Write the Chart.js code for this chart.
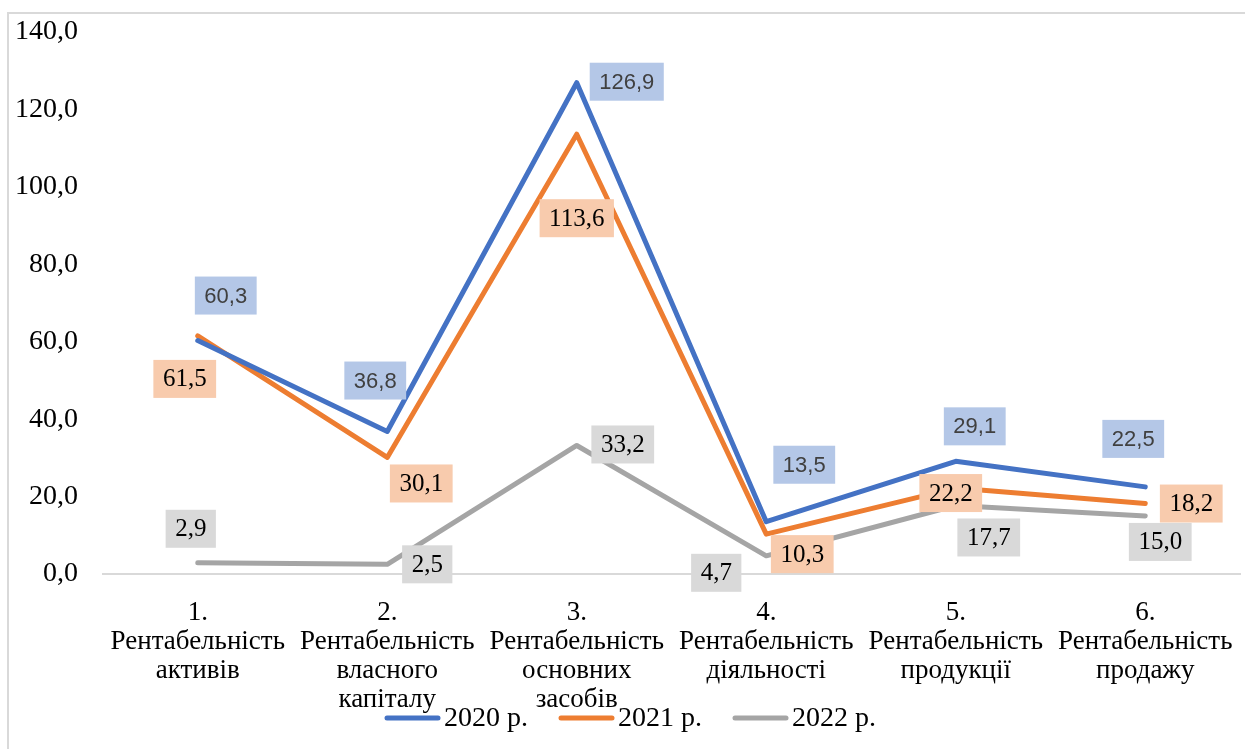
<!DOCTYPE html>
<html lang="uk">
<head>
<meta charset="utf-8">
<title>Рентабельність</title>
<script src="https://cdn.jsdelivr.net/npm/chart.js@4.4.1/dist/chart.umd.min.js"></script>
<style>
  html, body { margin: 0; padding: 0; background: #fff; }
  body { width: 1245px; height: 749px; position: relative; overflow: hidden; }
  #ramka { position: absolute; left: 7px; top: 12px; width: 1300px; height: 800px;
           border-left: 2px solid #d9d9d9; border-top: 2px solid #d9d9d9; }
  #wrap { position: absolute; left: 0; top: 0; width: 1245px; height: 749px; }
</style>
</head>
<body>
<div id="ramka"></div>
<div id="wrap"><canvas id="grafico"></canvas></div>
<script>
const categorias = [
  ['1.', 'Рентабельність', 'активів'],
  ['2.', 'Рентабельність', 'власного', 'капіталу'],
  ['3.', 'Рентабельність', 'основних', 'засобів'],
  ['4.', 'Рентабельність', 'діяльності'],
  ['5.', 'Рентабельність', 'продукції'],
  ['6.', 'Рентабельність', 'продажу']
];
const valores2020 = [60.3, 36.8, 126.9, 13.5, 29.1, 22.5];
const valores2021 = [61.5, 30.1, 113.6, 10.3, 22.2, 18.2];
const valores2022 = [2.9, 2.5, 33.2, 4.7, 17.7, 15.0];
const ticksY = [0, 20, 40, 60, 80, 100, 120, 140];
const nomesSeries = ['2020 р.', '2021 р.', '2022 р.'];

// deslocamento das etiquetas (px) em relação ao ponto
const desloc2020 = [[28, -45], [-12, -51], [50, -1], [38, -57], [19, -35], [-12, -48]];
const desloc2021 = [[-13, 43], [34, 26], [0, 84], [36, 20], [-5, 5], [46, 0]];
const desloc2022 = [[-7, -34], [40, 0], [46, -1], [-50, 17], [33, 32], [15, 26]];

const SERIF = '"Liberation Serif", "Times New Roman", serif';
const SANS = '"Liberation Sans", Arial, sans-serif';

const formatar = v => v.toFixed(1).replace('.', ',');

const estilos = [
  { cor: '#4472c4', caixa: '#b4c7e7', texto: '#404040', fonte: '22px ' + SANS, desloc: desloc2020 },
  { cor: '#ed7d31', caixa: '#f8cbad', texto: '#000000', fonte: '25px ' + SERIF, desloc: desloc2021 },
  { cor: '#a5a5a5', caixa: '#d9d9d9', texto: '#000000', fonte: '25px ' + SERIF, desloc: desloc2022 }
];

// etiquetas de dados em caixas coloridas
const etiquetas = {
  id: 'etiquetas',
  afterDatasetsDraw(chart) {
    const ctx = chart.ctx;
    chart.data.datasets.forEach((ds, i) => {
      const est = estilos[i];
      const meta = chart.getDatasetMeta(i);
      ctx.save();
      ctx.font = est.fonte;
      ctx.textAlign = 'center';
      ctx.textBaseline = 'middle';
      meta.data.forEach((p, j) => {
        const txt = formatar(ds.data[j]);
        const cx = p.x + est.desloc[j][0];
        const cy = p.y + est.desloc[j][1];
        const w = ctx.measureText(txt).width + 19;
        const h = 38;
        ctx.fillStyle = est.caixa;
        ctx.fillRect(cx - w / 2, cy - h / 2, w, h);
        ctx.fillStyle = est.texto;
        ctx.fillText(txt, cx, cy + 1);
      });
      ctx.restore();
    });
  }
};

// legenda desenhada à mão (sobrepõe os rótulos do eixo, como no original)
const legenda = {
  id: 'legenda',
  afterDraw(chart) {
    const ctx = chart.ctx;
    ctx.save();
    ctx.font = '28px ' + SERIF;
    ctx.textBaseline = 'middle';
    const linha = 55, gapTxt = 4, gapItem = 31;
    const larguras = chart.data.datasets.map(ds => ctx.measureText(ds.label).width);
    const total = larguras.reduce((a, b) => a + b, 0) + 3 * (linha + gapTxt) + 2 * gapItem;
    let x = chart.width / 2 + 8 - total / 2;
    const y = 718;
    chart.data.datasets.forEach((ds, i) => {
      ctx.strokeStyle = ds.borderColor;
      ctx.lineWidth = 5;
      ctx.lineCap = 'round';
      ctx.beginPath();
      ctx.moveTo(x + 2, y);
      ctx.lineTo(x + linha - 2, y);
      ctx.stroke();
      x += linha + gapTxt;
      ctx.fillStyle = '#000';
      ctx.fillText(ds.label, x, y + 1);
      x += larguras[i] + gapItem;
    });
    ctx.restore();
  }
};

const serie = (label, data, cor) => ({
  label: label,
  data: data,
  borderColor: cor,
  backgroundColor: cor,
  borderWidth: 5,
  borderCapStyle: 'round',
  borderJoinStyle: 'round',
  pointRadius: 0,
  pointHoverRadius: 0,
  tension: 0,
  fill: false
});

const ctx = document.getElementById('grafico').getContext('2d');
const chart = new Chart(ctx, {
  type: 'line',
  data: {
    labels: categorias,
    datasets: [
      serie(nomesSeries[0], valores2020, estilos[0].cor),
      serie(nomesSeries[1], valores2021, estilos[1].cor),
      serie(nomesSeries[2], valores2022, estilos[2].cor)
    ]
  },
  options: {
    responsive: true,
    maintainAspectRatio: false,
    animation: false,
    layout: { padding: { top: 32, right: 5, left: 0, bottom: 0 } },
    scales: {
      x: {
        offset: true,
        // grelha invisível, mas tickLength empurra os rótulos para baixo
        grid: { display: false, drawTicks: true, tickLength: 24, offset: true },
        border: { display: true, color: '#d9d9d9', width: 2 },
        afterFit: s => { s.height = 175; },
        ticks: {
          autoSkip: false,
          maxRotation: 0,
          padding: 0,
          color: '#000',
          font: { family: SERIF, size: 27, lineHeight: 1.08 }
        }
      },
      y: {
        min: ticksY[0],
        max: ticksY[ticksY.length - 1],
        grid: { display: false, drawTicks: true, tickLength: 25 },
        border: { display: false },
        afterFit: s => { s.width = 103; },
        ticks: {
          stepSize: ticksY[1] - ticksY[0],
          padding: 0,
          color: '#000',
          font: { family: SERIF, size: 28 },
          callback: v => formatar(v)
        }
      }
    },
    plugins: {
      legend: { display: false },
      tooltip: { enabled: false }
    }
  },
  plugins: [etiquetas, legenda]
});
</script>
</body>
</html>
